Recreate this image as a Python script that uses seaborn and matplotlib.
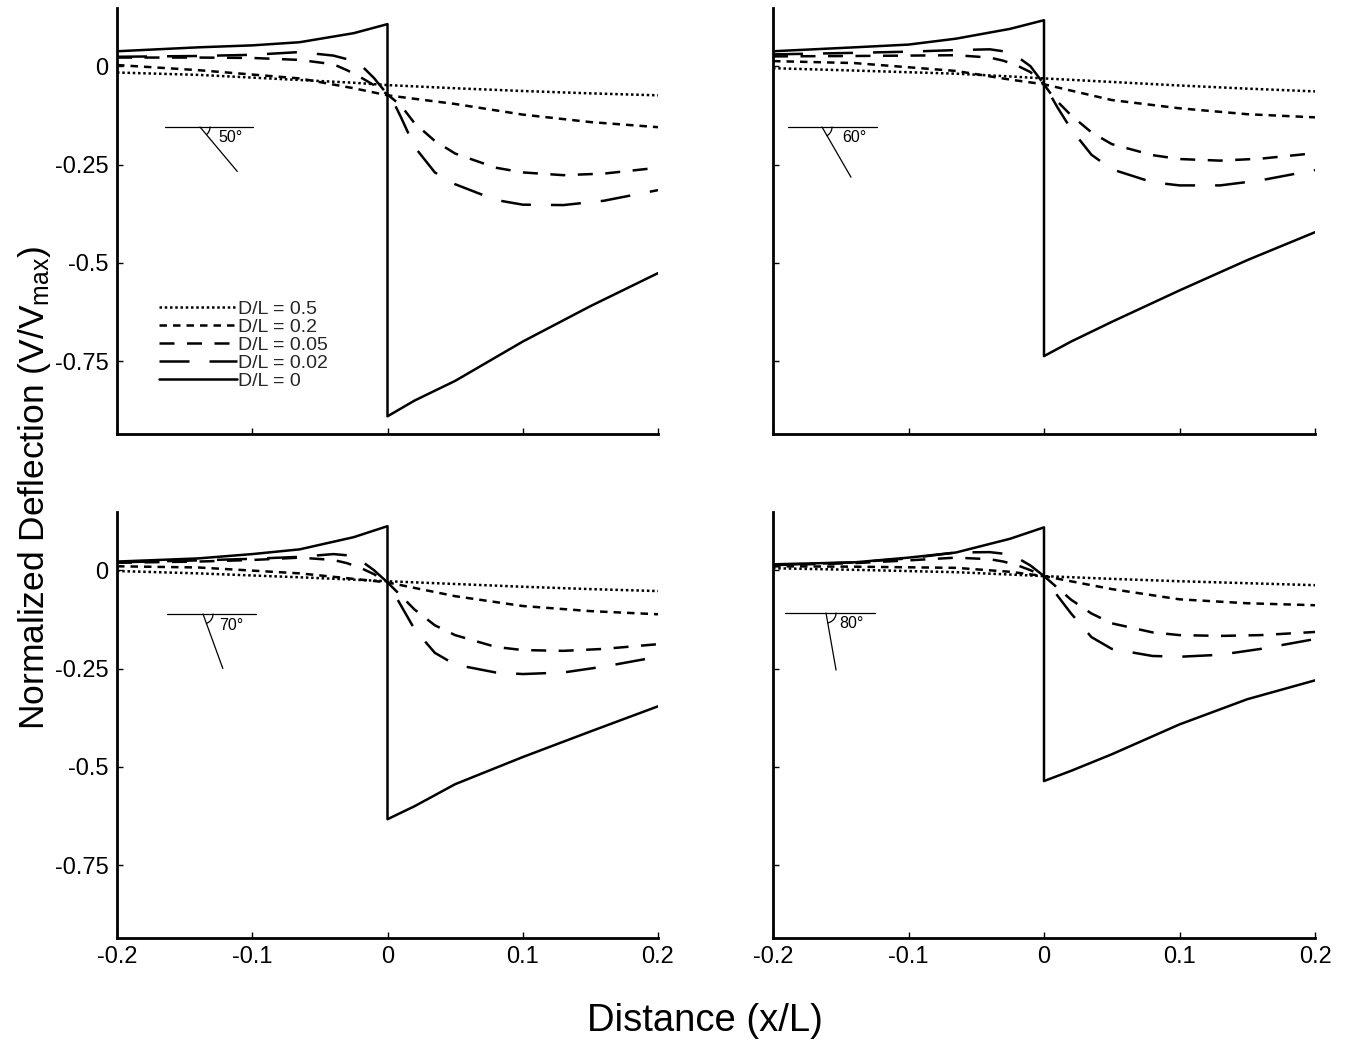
import numpy as np
import pandas as pd
import matplotlib
matplotlib.use("Agg")
import matplotlib.pyplot as plt
import seaborn as sns

# ---------------- data ----------------
ANGLES = [50, 60, 70, 80]
LABELS = ["D/L = 0.5", "D/L = 0.2", "D/L = 0.05", "D/L = 0.02", "D/L = 0"]

X_SMOOTH = [-0.2, -0.14, -0.065, -0.025, 0.0, 0.05, 0.1, 0.15, 0.2]
X_DASH = [-0.2, -0.14, -0.1, -0.065, -0.04, -0.03, -0.02, -0.01, 0.0, 0.005,
          0.01, 0.02, 0.035, 0.05, 0.08, 0.1, 0.13, 0.16, 0.2]
X_STEP = [-0.2, -0.14, -0.1, -0.065, -0.025, 0.0, 0.0, 0.02, 0.05, 0.1, 0.15, 0.2]

# 50 degrees
a50_d05 = [-0.016, -0.022, -0.035, -0.042, -0.048, -0.056, -0.063, -0.069, -0.074]
a50_d02 = [0.003, -0.010, -0.031, -0.056, -0.074, -0.096, -0.123, -0.142, -0.155]
a50_d005 = [0.022, 0.022, 0.021, 0.016, 0.005, -0.010, -0.028, -0.048, -0.072, -0.086,
            -0.100, -0.145, -0.190, -0.222, -0.258, -0.270, -0.277, -0.273, -0.258]
a50_d002 = [0.024, 0.026, 0.029, 0.036, 0.027, 0.018, 0.004, -0.030, -0.072, -0.095,
            -0.130, -0.205, -0.270, -0.300, -0.340, -0.352, -0.353, -0.342, -0.315]
a50_d0 = [0.038, 0.048, 0.053, 0.061, 0.084, 0.107, -0.890, -0.850, -0.800, -0.700, -0.610, -0.526]

# 60 degrees
a60_d05 = [-0.005, -0.011, -0.019, -0.026, -0.031, -0.040, -0.049, -0.057, -0.064]
a60_d02 = [0.013, 0.008, -0.012, -0.034, -0.046, -0.086, -0.107, -0.122, -0.130]
a60_d005 = [0.025, 0.026, 0.027, 0.028, 0.022, 0.014, 0.002, -0.015, -0.046, -0.070,
            -0.090, -0.125, -0.168, -0.198, -0.226, -0.236, -0.240, -0.235, -0.221]
a60_d002 = [0.030, 0.034, 0.037, 0.041, 0.043, 0.038, 0.025, 0.000, -0.046, -0.075,
            -0.105, -0.160, -0.225, -0.262, -0.295, -0.303, -0.303, -0.290, -0.264]
a60_d0 = [0.038, 0.048, 0.055, 0.070, 0.095, 0.117, -0.737, -0.700, -0.650, -0.570, -0.493, -0.422]

# 70 degrees
a70_d05 = [-0.002, -0.008, -0.018, -0.024, -0.028, -0.035, -0.042, -0.048, -0.053]
a70_d02 = [0.010, 0.007, -0.008, -0.022, -0.031, -0.066, -0.091, -0.104, -0.112]
a70_d005 = [0.019, 0.022, 0.026, 0.032, 0.026, 0.018, 0.006, -0.010, -0.031, -0.048,
            -0.065, -0.100, -0.140, -0.165, -0.195, -0.203, -0.205, -0.200, -0.188]
a70_d002 = [0.020, 0.025, 0.029, 0.034, 0.041, 0.038, 0.025, 0.000, -0.031, -0.060,
            -0.090, -0.150, -0.210, -0.240, -0.260, -0.264, -0.260, -0.245, -0.220]
a70_d0 = [0.022, 0.030, 0.041, 0.053, 0.084, 0.112, -0.633, -0.600, -0.544, -0.475, -0.410, -0.346]

# 80 degrees
a80_d05 = [0.005, 0.001, -0.005, -0.011, -0.015, -0.022, -0.028, -0.033, -0.038]
a80_d02 = [0.010, 0.009, 0.006, -0.004, -0.015, -0.048, -0.074, -0.084, -0.089]
a80_d005 = [0.013, 0.018, 0.025, 0.032, 0.028, 0.022, 0.013, 0.000, -0.015, -0.030,
            -0.045, -0.075, -0.110, -0.135, -0.158, -0.165, -0.167, -0.165, -0.157]
a80_d002 = [0.013, 0.020, 0.030, 0.045, 0.046, 0.042, 0.032, 0.012, -0.015, -0.040,
            -0.065, -0.110, -0.170, -0.200, -0.218, -0.220, -0.215, -0.200, -0.175]
a80_d0 = [0.015, 0.020, 0.032, 0.045, 0.080, 0.109, -0.536, -0.510, -0.468, -0.392, -0.328, -0.280]

X_TICKS = [-0.2, -0.1, 0.0, 0.1, 0.2]
X_TICKLABELS = ["-0.2", "-0.1", "0", "0.1", "0.2"]
Y_TICKS = [0.0, -0.25, -0.5, -0.75]
Y_TICKLABELS = ["0", "-0.25", "-0.5", "-0.75"]

PANELS = {
    50: [a50_d05, a50_d02, a50_d005, a50_d002, a50_d0],
    60: [a60_d05, a60_d02, a60_d005, a60_d002, a60_d0],
    70: [a70_d05, a70_d02, a70_d005, a70_d002, a70_d0],
    80: [a80_d05, a80_d02, a80_d005, a80_d002, a80_d0],
}
XS = [X_SMOOTH, X_SMOOTH, X_DASH, X_DASH, X_STEP]

# ---------------- style ----------------
sns.set_theme(style="white")
plt.rcParams["font.family"] = ["Liberation Sans", "DejaVu Sans"]
plt.rcParams["mathtext.fontset"] = "custom"
plt.rcParams["mathtext.rm"] = "Liberation Sans"
plt.rcParams["mathtext.it"] = "Liberation Sans"

LW = 1.8
STYLES = [(0, (1.0, 1.1)), (0, (3.0, 2.4)), (0, (6.0, 5.0)), (0, (12.0, 8.0)), "-"]

FW, FH = 13.53, 10.47
DPI = 100
fig = plt.figure(figsize=(FW, FH), dpi=DPI)
W_PX, H_PX = FW * DPI, FH * DPI

# axes positions in figure pixels: (left, top, right, bottom)
AX_PX = {50: (117, 8, 658, 434), 60: (773, 8, 1315, 434),
         70: (117, 512, 658, 938), 80: (773, 512, 1315, 938)}

# angle icon layout (pixels relative to axes left/top): h_left, vertex, h_right, y, text_dx
ICON = {50: (48, 83, 136, 119, 18), 60: (15, 49, 104, 119, 20),
        70: (50, 86, 139, 102, 16), 80: (12, 53, 102, 101, 13)}

YLIM = (-0.935, 0.148)
XLIM = (-0.2, 0.2)

axes = {}
for ang in ANGLES:
    l, t, r, b = AX_PX[ang]
    ax = fig.add_axes([l / W_PX, 1 - b / H_PX, (r - l) / W_PX, (b - t) / H_PX])
    axes[ang] = ax
    for i, (xs, ys) in enumerate(zip(XS, PANELS[ang])):
        df = pd.DataFrame({"x": xs, "y": ys})
        sns.lineplot(data=df, x="x", y="y", ax=ax, estimator=None, sort=False,
                     color="black", linewidth=LW, linestyle=STYLES[i],
                     label=LABELS[i] if ang == 50 else None, legend=False)
    ax.set_xlim(*XLIM)
    ax.set_ylim(*YLIM)
    ax.set_xlabel("")
    ax.set_ylabel("")
    ax.set_xticks(X_TICKS)
    ax.set_yticks(Y_TICKS)
    bottom_row = ang in (70, 80)
    left_col = ang in (50, 70)
    ax.set_xticklabels(X_TICKLABELS if bottom_row else [""] * len(X_TICKS))
    ax.set_yticklabels(Y_TICKLABELS if left_col else [""] * len(Y_TICKS))
    ax.tick_params(axis="both", direction="in", length=4, width=1, labelsize=17,
                   pad=6, colors="black", left=True, bottom=True)
    for s in ("top", "right"):
        ax.spines[s].set_visible(False)
    for s in ("left", "bottom"):
        ax.spines[s].set_color("black")
        ax.spines[s].set_linewidth(2.0)
    ax.set_facecolor("white")

    # angle icon
    aw, ah = r - l, b - t
    hl, vx, hr, yy, tdx = ICON[ang]
    fx = lambda px: px / aw
    fy = lambda py: 1 - py / ah
    ax.plot([fx(hl), fx(hr)], [fy(yy), fy(yy)], color="black", lw=0.9,
            transform=ax.transAxes, clip_on=False)
    th = np.deg2rad(ang)
    slen = 58
    ax.plot([fx(vx), fx(vx + slen * np.cos(th))], [fy(yy), fy(yy + slen * np.sin(th))],
            color="black", lw=0.9, transform=ax.transAxes, clip_on=False)
    rr = 10
    tt = np.linspace(0, th, 30)
    ax.plot([fx(vx + rr * np.cos(a)) for a in tt], [fy(yy + rr * np.sin(a)) for a in tt],
            color="black", lw=0.9, transform=ax.transAxes, clip_on=False)
    ax.text(fx(vx + tdx), fy(yy + 11), f"{ang}°", transform=ax.transAxes,
            fontsize=11.5, ha="left", va="center", color="black")

# legend in the first panel
ax0 = axes[50]
handles = ax0.get_lines()[:5]
ax0.legend(handles, LABELS, loc="upper left", bbox_to_anchor=(0.078, 0.314),
           frameon=False, fontsize=14, handlelength=4.0, handletextpad=0.05,
           labelspacing=0.02, borderpad=0, borderaxespad=0)

fig.text(35 / W_PX, 1 - 488 / H_PX, r"Normalized Deflection (V/V$_{\mathregular{max}}$)",
         rotation=90, ha="center", va="center", fontsize=25.5, color="black")
fig.text(705 / W_PX, 1 - 1021 / H_PX, "Distance (x/L)", ha="center", va="center",
         fontsize=27.5, color="black")

fig.savefig("out.png", dpi=DPI, facecolor="white")
